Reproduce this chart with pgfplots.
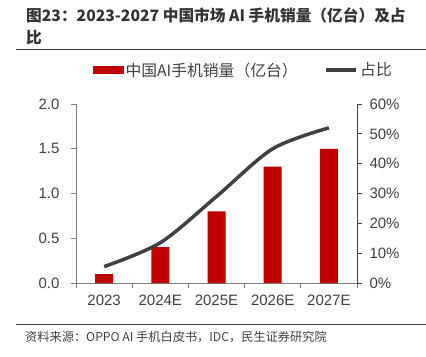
\documentclass[border=0pt]{standalone}
\usepackage{pgfplots}
\pgfplotsset{compat=1.18}
\usepackage{fontspec}
\setmainfont{Liberation Sans}
\newfontfamily\cjk{Noto Sans CJK SC}
\definecolor{barred}{HTML}{C00000}
\definecolor{linegray}{HTML}{404040}
\definecolor{axgray}{HTML}{808080}
\definecolor{txtgray}{HTML}{404040}
\definecolor{titlegray}{HTML}{333333}
\begin{document}
\begin{tikzpicture}
\useasboundingbox (0bp,0bp) rectangle (426bp,-357bp);
\draw[color=linegray, line width=1bp] (16bp,-49bp) -- (426bp,-49bp);
\draw[color=linegray, line width=1bp] (16bp,-324bp) -- (426bp,-324bp);
\node[anchor=base west, inner sep=0pt, text=titlegray] at (26bp,-21bp) {\cjk\bfseries\fontsize{15.7bp}{18bp}\selectfont 图23：2023-2027 中国市场 AI 手机销量（亿台）及占};
\node[anchor=base west, inner sep=0pt, text=titlegray] at (26bp,-43bp) {\cjk\bfseries\fontsize{15.7bp}{18bp}\selectfont 比};
\node[anchor=base west, inner sep=0pt, text=txtgray] at (25bp,-341bp) {\cjk\fontsize{12.2bp}{14bp}\selectfont 资料来源：OPPO AI 手机白皮书，IDC，民生证券研究院};
\begin{axis}[
  at={(76bp,-283bp)}, anchor=south west,
  scale only axis, width=281bp, height=179bp,
  xmin=-0.5, xmax=4.5, ymin=0, ymax=2,
  xtick={0,1,2,3,4},
  xticklabels={2023,2024E,2025E,2026E,2027E},
  minor xtick={-0.5,0.5,1.5,2.5,3.5,4.5},
  major x tick style={draw=none},
  ytick={0,0.5,1,1.5,2},
  yticklabel style={/pgf/number format/fixed, /pgf/number format/fixed zerofill, /pgf/number format/precision=1, xshift=-8bp},
  /pgf/number format/assume math mode=true,
  axis x line*=bottom, axis y line*=left,
  axis line style={-, color=axgray, line width=1bp},
  tick style={color=axgray, line width=1bp},
  tick align=outside, major tick length=5bp, minor tick length=5bp,
  ticklabel style={font=\fontsize{15bp}{17bp}\selectfont, text=txtgray},
  xticklabel style={yshift=-4bp},
  legend columns=2,
  legend style={draw=none, fill=none, at={(0.596,1.19)}, anchor=center,
    font=\cjk\fontsize{15.8bp}{18bp}\selectfont, text=txtgray,
    /tikz/every even column/.append style={column sep=25bp}},
]
\addplot[ybar, bar width=18bp, fill=barred, draw=none, forget plot]
  coordinates {(0,0.1) (1,0.4) (2,0.8) (3,1.3) (4,1.5)};
\addlegendimage{legend image code/.code={\fill[barred] (0bp,-3.5bp) rectangle (30bp,3.5bp);}}
\addlegendentry{中国AI手机销量（亿台）}
\addlegendimage{legend image code/.code={\draw[linegray, line width=3.5bp] (0bp,0bp) -- (30bp,0bp);}}
\addlegendentry{占比}
\end{axis}
\begin{axis}[
  at={(76bp,-283bp)}, anchor=south west,
  scale only axis, width=281bp, height=179bp,
  xmin=-0.5, xmax=4.5, ymin=0, ymax=60,
  hide x axis,
  axis y line*=right,
  ytick={0,10,...,60},
  yticklabel={\pgfmathprintnumber{\tick}\%},
  /pgf/number format/assume math mode=true,
  axis line style={-, color=linegray, line width=1bp},
  tick style={color=linegray, line width=1bp},
  tick align=outside, major tick length=5bp,
  ticklabel style={font=\fontsize{15bp}{17bp}\selectfont, text=txtgray},
  yticklabel style={xshift=4bp},
]
\addplot[smooth, color=linegray, line width=3.5bp, forget plot]
  coordinates {(0,5.5) (1,13.5) (2,29) (3,45) (4,52)};
\end{axis}
\end{tikzpicture}
\end{document}
